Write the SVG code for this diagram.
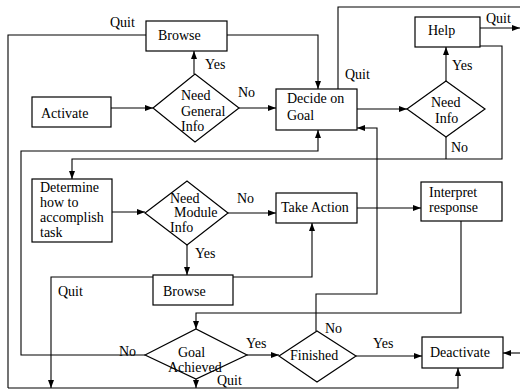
<svg xmlns="http://www.w3.org/2000/svg" width="520" height="390" viewBox="0 0 520 390">
<defs>
<marker id="ah" markerUnits="userSpaceOnUse" markerWidth="8" markerHeight="8" viewBox="0 0 8 8" refX="8" refY="4" orient="auto">
<path d="M0,1 L8,4 L0,7 Z" fill="#000"/>
</marker>
<style>
.n rect,.n polygon{fill:#fff;stroke:#000;stroke-width:1.2}
.c path{fill:none;stroke:#000;stroke-width:1.1}
.c path.a{marker-end:url(#ah)}
text{font-family:"Liberation Serif","Times New Roman",serif;font-size:14px;fill:#000}
</style>
</defs>
<rect width="520" height="390" fill="#fff"/>
<g class="c" id="connectors">
<path class="a" d="M111,108 H153"/>
<path class="a" d="M194,74 V51"/>
<path class="a" d="M227,35 H318 V89"/>
<path d="M146,35 H8 V388"/>
<path class="a" d="M239,108 H276"/>
<path class="a" d="M357,109 H407"/>
<path class="a" d="M446,81 V47"/>
<path class="a" d="M480,28 H520"/>
<path d="M338,89 V7 H520"/>
<path class="a" d="M480,46 H502 V159 H72 V179"/>
<path d="M446,137 V159"/>
<path class="a" d="M112,212 H145"/>
<path class="a" d="M228,213 H276"/>
<path class="a" d="M187,245 V275"/>
<path class="a" d="M233,277 H312 V223"/>
<path class="a" d="M153,277 H51 V388"/>
<path class="a" d="M357,208 H421"/>
<path class="a" d="M461,221 V313 H196 V329"/>
<path class="a" d="M145,355 H21 V151 H318 V130"/>
<path class="a" d="M247,355 H279"/>
<path class="a" d="M196,379 V388"/>
<path class="a" d="M316,331 V294 H377 V128 H357"/>
<path class="a" d="M356,356 H422"/>
<path class="a" d="M8,388 H458 V368"/>
<path class="a" d="M520,353 H503"/>
</g>
<g class="n" id="browse1"><rect x="146" y="21" width="81" height="30"/><text x="158" y="40">Browse</text></g>
<g class="n" id="activate"><rect x="32" y="97" width="79" height="30"/><text x="41" y="118">Activate</text></g>
<g class="n" id="needGeneralInfo"><polygon points="153,108 195,74 239,108 195,142"/><text x="181" y="100">Need</text><text x="181" y="115.5">General</text><text x="181" y="131">Info</text></g>
<g class="n" id="decideGoal"><rect x="276" y="89" width="81" height="41"/><text x="287" y="103">Decide on</text><text x="287" y="120">Goal</text></g>
<g class="n" id="help"><rect x="415" y="17" width="65" height="30"/><text x="428" y="35">Help</text></g>
<g class="n" id="needInfo"><polygon points="407,109 446,81 485,109 446,137"/><text x="431" y="107">Need</text><text x="435" y="123">Info</text></g>
<g class="n" id="determine"><rect x="32" y="179" width="80" height="63"/><text x="40" y="192">Determine</text><text x="40" y="207">how to</text><text x="40" y="222">accomplish</text><text x="40" y="237">task</text></g>
<g class="n" id="needModuleInfo"><polygon points="145,213 187,181 228,213 187,245"/><text x="170" y="203">Need</text><text x="174" y="217">Module</text><text x="170" y="232">Info</text></g>
<g class="n" id="takeAction"><rect x="276" y="193" width="81" height="30"/><text x="281" y="212">Take Action</text></g>
<g class="n" id="interpret"><rect x="421" y="182" width="81" height="39"/><text x="429" y="197">Interpret</text><text x="429" y="212">response</text></g>
<g class="n" id="browse2"><rect x="153" y="275" width="80" height="30"/><text x="163" y="296">Browse</text></g>
<g class="n" id="goalAchieved"><polygon points="145,355 196,329 247,355 196,379"/><text x="178" y="357">Goal</text><text x="168" y="372">Achieved</text></g>
<g class="n" id="finished"><polygon points="279,356 317,331 356,356 317,382"/><text x="290" y="360">Finished</text></g>
<g class="n" id="deactivate"><rect x="422" y="337" width="81" height="31"/><text x="430" y="357">Deactivate</text></g>
<g id="labels">
<text x="110" y="27">Quit</text>
<text x="205" y="69">Yes</text>
<text x="238" y="97">No</text>
<text x="345" y="79">Quit</text>
<text x="486" y="23">Quit</text>
<text x="452" y="70">Yes</text>
<text x="451" y="152">No</text>
<text x="237" y="203">No</text>
<text x="195" y="258">Yes</text>
<text x="58" y="296">Quit</text>
<text x="119" y="356">No</text>
<text x="246" y="348">Yes</text>
<text x="373" y="348">Yes</text>
<text x="217" y="385">Quit</text>
<text x="325" y="333">No</text>
</g>
</svg>
